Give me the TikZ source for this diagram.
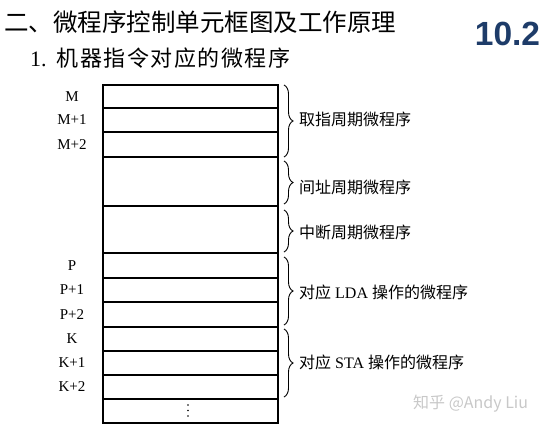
\documentclass[tikz,border=0pt]{standalone}
\usepackage{fontspec}
\setmainfont{Liberation Serif}
\newfontfamily\cjk{Noto Sans CJK SC}
\newfontfamily\arialf{Liberation Sans}
\usetikzlibrary{decorations.pathreplacing}
\definecolor{navy}{RGB}{30,60,105}
\definecolor{wm}{RGB}{200,200,200}
\begin{document}
\begin{tikzpicture}[x=1pt,y=-1pt,
  rowbox/.style={draw=black,line width=1.9pt,minimum width=175pt,inner sep=0pt,outer sep=0pt},
  addr/.style={font=\fontsize{15}{15}\selectfont,inner sep=0pt},
  brc/.style={decorate,decoration={brace,amplitude=9pt,aspect=0.5},line width=0.9pt},
  blabel/.style={anchor=west,inner sep=0pt,font=\fontsize{16}{16}\selectfont},
  dotmark/.style={fill=black,draw=none,circle,inner sep=0pt,minimum size=1.8pt}]
\useasboundingbox (0,0) rectangle (545,429);
% titles
\node[anchor=west,inner sep=0pt,font=\cjk\fontsize{24.5}{24.5}\selectfont] (title) at (4,22) {二、微程序控制单元框图及工作原理};
\node[anchor=west,inner sep=0pt,font=\fontsize{22}{22}\selectfont] (sub) at (30,58) {1.\hspace{0.45em}{\cjk 机\kern1.5pt 器\kern1.5pt 指\kern1.5pt 令\kern1.5pt 对\kern1.5pt 应\kern1.5pt 的\kern1.5pt 微\kern1.5pt 程\kern1.5pt 序}};
\node[inner sep=0pt,text=navy,font=\arialf\bfseries\fontsize{33.5}{33.5}\selectfont] (num) at (507.5,34) {10.2};
% rows
\node[rowbox,minimum height=23pt] (r1) at (190.5,96.5) {};
\node[rowbox,minimum height=24pt] (r2) at (190.5,120) {};
\node[rowbox,minimum height=25pt] (r3) at (190.5,144.5) {};
\node[rowbox,minimum height=49pt] (r4) at (190.5,181.5) {};
\node[rowbox,minimum height=47pt] (r5) at (190.5,229.5) {};
\node[rowbox,minimum height=25pt] (r6) at (190.5,265.5) {};
\node[rowbox,minimum height=24pt] (r7) at (190.5,290) {};
\node[rowbox,minimum height=25pt] (r8) at (190.5,314.5) {};
\node[rowbox,minimum height=24pt] (r9) at (190.5,339) {};
\node[rowbox,minimum height=24pt] (r10) at (190.5,363) {};
\node[rowbox,minimum height=24pt] (r11) at (190.5,387) {};
\node[rowbox,minimum height=24pt] (r12) at (190.5,411) {};
\node[dotmark] (d1) at (188,405) {};
\node[dotmark] (d2) at (188,410.5) {};
\node[dotmark] (d3) at (188,416) {};
% address labels
\coordinate (lx) at (72,0);
\node[addr] (aM) at (lx |- r1) {M};
\node[addr] (aM1) at (lx |- r2) {M+1};
\node[addr] (aM2) at (lx |- r3) {M+2};
\node[addr] (aP) at (lx |- r6) {P};
\node[addr] (aP1) at (lx |- r7) {P+1};
\node[addr] (aP2) at (lx |- r8) {P+2};
\node[addr] (aK) at (lx |- r9) {K};
\node[addr] (aK1) at (lx |- r10) {K+1};
\node[addr] (aK2) at (lx |- r11) {K+2};
% braces
\draw[brc] (284,85) -- (284,157);
\draw[brc] (284,161) -- (284,204);
\draw[brc] (284,210) -- (284,252);
\draw[brc] (284,257) -- (284,325);
\draw[brc] (284,329) -- (284,397);
\node[blabel] (b1) at (299,119) {\cjk 取指周期微程序};
\node[blabel] (b2) at (299,187) {\cjk 间址周期微程序};
\node[blabel] (b3) at (299,232) {\cjk 中断周期微程序};
\node[blabel] (b4) at (299,292) {{\cjk 对应} LDA {\cjk 操作的微程序}};
\node[blabel] (b5) at (299,362) {{\cjk 对应} STA {\cjk 操作的微程序}};
% watermark
\node[anchor=west,inner sep=0pt,text=wm,font=\cjk\fontsize{16}{16}\selectfont] (wmk) at (413,404) {知乎 @Andy Liu};
\end{tikzpicture}
\end{document}
